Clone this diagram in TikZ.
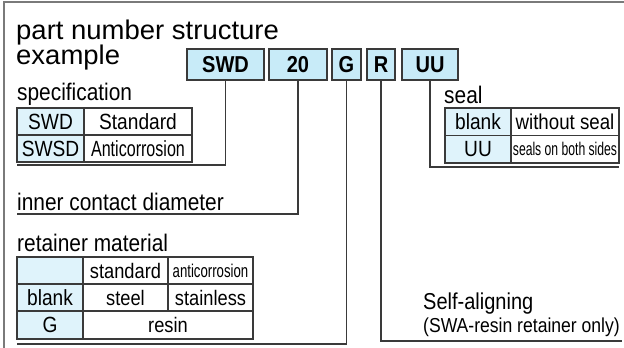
\documentclass[tikz,border=0pt]{standalone}
\usepackage{fontspec}
\setmainfont{Liberation Sans}[FakeStretch=0.87]
\usepackage{graphicx}
\definecolor{boxblue}{HTML}{C8EBF8}
\definecolor{keyblue}{HTML}{DFF3FB}
\definecolor{linegray}{HTML}{3A3A3A}
\definecolor{framegray}{HTML}{7A7A7A}
\newcommand\squeeze[2]{\scalebox{#1}[1]{#2}}
\newcommand\fs[1]{\fontsize{#1}{#1}\selectfont}
\begin{document}
\begin{tikzpicture}[x=1pt,y=-1pt,
	pbox/.style={draw=linegray,fill=boxblue,line width=1.1pt,minimum height=31pt,inner sep=0,font=\fs{23}\bfseries},
	cell/.style={draw=linegray,line width=1.1pt,minimum height=27pt,inner sep=0,font=\fs{22}},
	keycell/.style={cell,fill=keyblue},
	lbl/.style={anchor=base west,inner sep=0,font=\fs{24}},
	conn/.style={draw=linegray,line width=1.1pt}]
\useasboundingbox (0,0) rectangle (624,348);
\draw[framegray,line width=1.2pt] (4,400) |- (630,2);
% title
\node[lbl,font=\fs{27}] (title1) at (16,39) {\squeeze{1.17}{part number structure}};
\node[lbl,font=\fs{27}] (title2) at (16,64.5) {\squeeze{1.17}{example}};
% part number boxes
\node[pbox,minimum width=77pt] (swd) at (225.5,64.5) {SWD};
\node[pbox,minimum width=58pt] (dia) at (298,64.5) {20};
\node[pbox,minimum width=29pt] (ret) at (346.5,64.5) {G};
\node[pbox,minimum width=28pt] (self) at (381,64.5) {R};
\node[pbox,minimum width=56pt] (seal) at (430,64.5) {UU};
% specification
\node[lbl] (speclbl) at (17,100) {specification};
\node[keycell,minimum width=67pt] (sp11) at (50.5,121.5) {SWD};
\node[cell,minimum width=108pt] (sp12) at (138,121.5) {Standard};
\node[keycell,minimum width=67pt] (sp21) at (50.5,148.5) {SWSD};
\node[cell,minimum width=108pt] (sp22) at (138,148.5) {\squeeze{0.84}{Anticorrosion}};
\coordinate (specend) at (17,165);
\draw[conn] (swd.south) |- (specend);
% inner contact diameter
\node[lbl] (dialbl) at (17,210) {inner contact diameter};
\coordinate (diaend) at (17,214);
\draw[conn] (dia.south) |- (diaend);
% retainer material
\node[lbl] (retlbl) at (17,251) {retainer material};
\node[keycell,minimum width=66pt] (rt11) at (50,270.5) {};
\node[cell,minimum width=85pt,font=\fs{21}] (rt12) at (125.5,270.5) {standard};
\node[cell,minimum width=85pt,font=\fs{18.5}] (rt13) at (210.5,270.5) {\squeeze{0.82}{anticorrosion}};
\node[keycell,minimum width=66pt] (rt21) at (50,297.5) {blank};
\node[cell,minimum width=85pt,font=\fs{21}] (rt22) at (125.5,297.5) {steel};
\node[cell,minimum width=85pt,font=\fs{21}] (rt23) at (210.5,297.5) {stainless};
\node[keycell,minimum width=66pt,minimum height=28pt] (rt31) at (50,325) {G};
\node[cell,minimum width=170pt,minimum height=28pt,font=\fs{21}] (rt32) at (168,325) {resin};
\coordinate (retend) at (17,344);
\draw[conn] (ret.south) |- (retend);
% self-aligning
\node[lbl,font=\fs{23}] (selflbl) at (423,309) {Self-aligning};
\node[lbl,font=\fs{20.2}] (selfnote) at (423,332) {(SWA-resin retainer only)};
\coordinate (selfend) at (622,341);
\draw[conn] (self.south) |- (selfend);
% seal
\node[lbl] (seallbl) at (444,103) {seal};
\node[keycell,minimum width=66pt,minimum height=27.5pt] (se11) at (478,121.75) {blank};
\node[cell,minimum width=108pt,minimum height=27.5pt,font=\fs{21.5}] (se12) at (565,121.75) {without seal};
\node[keycell,minimum width=66pt,minimum height=27.5pt] (se21) at (478,149.25) {UU};
\node[cell,minimum width=108pt,minimum height=27.5pt,font=\fs{18.4}] (se22) at (565,149.25) {\squeeze{0.76}{seals on both sides}};
\coordinate (sealend) at (619,167);
\draw[conn] (seal.south) |- (sealend);
\end{tikzpicture}
\end{document}
